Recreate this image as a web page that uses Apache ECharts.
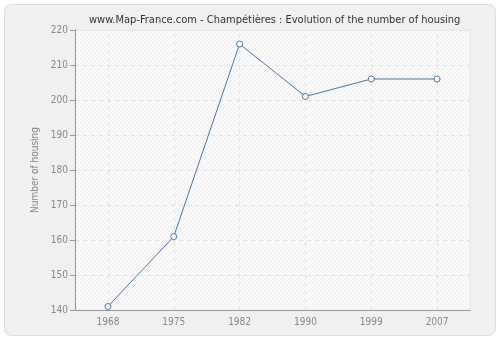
<!DOCTYPE html>
<html>
<head>
<meta charset="utf-8">
<script src="https://cdn.jsdelivr.net/npm/echarts@6/dist/echarts.min.js"></script>
<style>
html,body{margin:0;padding:0;background:#ffffff;}
#c{width:500px;height:340px;}
</style>
</head>
<body>
<div id="c"></div>
<script>
var titleText = "www.Map-France.com - Champétières : Evolution of the number of housing";
var yAxisName = "Number of housing";
var years = ["1968", "1975", "1982", "1990", "1999", "2007"];
var housing = [141, 161, 216, 201, 206, 206];
var yMin = 140, yMax = 220, yStep = 10;

var T = 4;
var pc = document.createElement('canvas');
pc.width = T; pc.height = T;
var ctx = pc.getContext('2d');
ctx.fillStyle = '#fafafa';
ctx.fillRect(0, 0, T, T);
ctx.strokeStyle = '#ececec';
ctx.lineWidth = 1;
ctx.beginPath();
ctx.moveTo(-1, T + 1); ctx.lineTo(T + 1, -1);
ctx.moveTo(-1, 1); ctx.lineTo(1, -1);
ctx.moveTo(T - 1, T + 1); ctx.lineTo(T + 1, T - 1);
ctx.stroke();

var FONT = "'DejaVu Sans Condensed', 'DejaVu Sans', sans-serif";
var grid = '#e2e2e2';

var chart = echarts.init(document.getElementById('c'), null, {renderer: 'canvas'});
chart.setOption({
  animation: false,
  backgroundColor: '#ffffff',
  graphic: [{
    type: 'rect', z: -10, silent: true,
    shape: {x: 4.5, y: 4.5, width: 491, height: 331, r: 7},
    style: {fill: '#f0f0f0', stroke: '#dcdcdc', lineWidth: 1}
  }],
  title: {
    text: titleText, left: 84, top: 10,
    textStyle: {fontFamily: FONT, fontSize: 11, fontWeight: 'normal', color: '#333333'}
  },
  grid: {
    left: 75, right: 30, top: 30, bottom: 30, show: true,
    backgroundColor: {image: pc, repeat: 'repeat'},
    borderColor: '#e6e6e6', borderWidth: 1
  },
  xAxis: {
    type: 'category', data: years, boundaryGap: true,
    axisLine: {lineStyle: {color: '#999999'}},
    axisTick: {alignWithLabel: true, length: 5, lineStyle: {color: '#999999'}},
    axisLabel: {color: '#888888', fontFamily: FONT, fontSize: 10, margin: 7},
    splitLine: {show: false}
  },
  yAxis: {
    type: 'value', min: yMin, max: yMax, interval: yStep,
    name: yAxisName, nameLocation: 'middle', nameGap: 33,
    nameTextStyle: {color: '#888888', fontFamily: FONT, fontSize: 10},
    axisLine: {show: true, lineStyle: {color: '#999999'}},
    axisTick: {show: true, length: 5, lineStyle: {color: '#999999'}},
    axisLabel: {color: '#888888', fontFamily: FONT, fontSize: 10, margin: 7},
    splitLine: {show: true, lineStyle: {color: grid, type: [4, 4]}}
  },
  series: [{
    type: 'line', data: housing,
    symbol: 'circle', symbolSize: 6,
    itemStyle: {color: '#ffffff', borderColor: '#4a76a8', borderWidth: 1},
    lineStyle: {color: '#4a76a8', width: 1},
    z: 3,
    markLine: {
      silent: true, symbol: 'none', z: 1,
      label: {show: false},
      lineStyle: {color: grid, type: [4, 4], width: 1},
      data: years.map(function (y) { return {xAxis: y}; })
    }
  }]
});
</script>
</body>
</html>
